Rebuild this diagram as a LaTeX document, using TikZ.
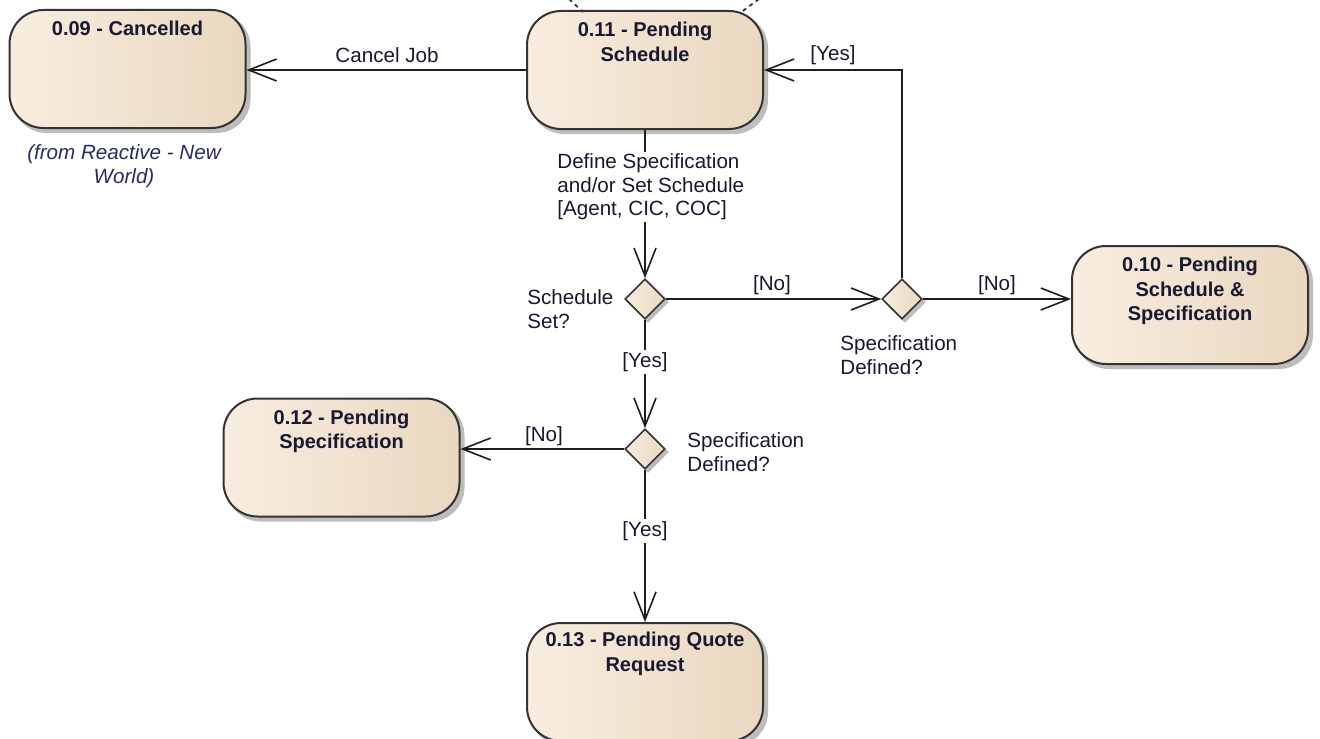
\documentclass[tikz,border=0pt]{standalone}
\usepackage{fontspec}
\setmainfont{Liberation Sans}
\usetikzlibrary{arrows.meta,shapes.geometric,backgrounds}
\definecolor{boxL}{HTML}{F8EDDF}
\definecolor{boxM}{HTML}{FBF1E5}
\definecolor{boxR}{HTML}{E9D8C0}
\definecolor{edgecol}{HTML}{333333}
\definecolor{linecol}{HTML}{1E1E1E}
\definecolor{txt}{HTML}{181830}
\definecolor{ital}{HTML}{2A2A66}
\definecolor{shadowcol}{HTML}{BDBDBD}
\tikzset{
  statebox/.style={draw=edgecol, line width=1pt, rounded corners=17pt,
    left color=boxL, middle color=boxM, right color=boxR,
    minimum width=118pt, minimum height=59pt, inner sep=0pt},
  boxtext/.style={anchor=north, inner sep=0pt, align=center,
    font=\fontsize{10}{12.2}\selectfont\bfseries, text=txt},
  decision/.style={diamond, aspect=1, draw=edgecol, line width=0.8pt,
    left color=boxL, right color=boxR, minimum size=20pt, inner sep=0pt},
  lbl/.style={inner sep=1pt, font=\fontsize{10.3}{11.7}\selectfont, text=txt, align=left},
  whitelbl/.style={lbl, fill=white},
  flow/.style={draw=linecol, line width=0.8pt,
    -{Straight Barb[length=14pt,width=11pt,line width=0.8pt]}},
  incoming/.style={draw=edgecol, line width=0.9pt, dash pattern=on 2pt off 2pt}
}
\begin{document}
\begin{tikzpicture}[x=0.5pt,y=-0.5pt]
\path[use as bounding box] (0,0) rectangle (1320,738);
\clip (0,0) rectangle (1320,738);

% state boxes
\node[statebox] (c09) at (127.5,69) {};
\node[statebox] (c11) at (645,70) {};
\node[statebox] (c10) at (1190,305) {};
\node[statebox] (c12) at (341.5,457.5) {};
\node[statebox] (c13) at (645,682) {};

\node[boxtext] (t09) at ([yshift=-6pt]c09.north) {0.09 - Cancelled};
\node[boxtext] (t11) at ([yshift=-6pt]c11.north) {0.11 - Pending\\Schedule};
\node[boxtext] (t10) at ([yshift=-6pt]c10.north) {0.10 - Pending\\Schedule \&\\Specification};
\node[boxtext] (t12) at ([yshift=-6pt]c12.north) {0.12 - Pending\\Specification};
\node[boxtext] (t13) at ([yshift=-5pt]c13.north) {0.13 - Pending Quote\\Request};

% decisions
\node[decision] (d1) at (645,299) {};
\node[decision] (d2) at (902,299) {};
\node[decision] (d3) at (645,449) {};

% shadows
\begin{scope}[on background layer]
  \foreach \n in {c09,c11,c10,c12,c13}{
    \fill[shadowcol, rounded corners=17pt]
      ([shift={(2pt,-2pt)}]\n.south west) rectangle ([shift={(2pt,-2pt)}]\n.north east);
  }
  \foreach \n in {d1,d2,d3}{
    \fill[shadowcol] ([shift={(1.5pt,-1.5pt)}]\n.north) -- ([shift={(1.5pt,-1.5pt)}]\n.east)
      -- ([shift={(1.5pt,-1.5pt)}]\n.south) -- ([shift={(1.5pt,-1.5pt)}]\n.west) -- cycle;
  }
\end{scope}

% incoming dashed transitions from outside the view
\coordinate (inA) at (569,-1);
\coordinate (inAend) at (583,12);
\coordinate (inB) at (759,-1);
\coordinate (inBend) at (740,13);
\draw[incoming] (inA) -- (inAend);
\draw[incoming] (inB) -- (inBend);

% connectors
\draw[flow] (c11.west) -- (c11.west -| c09.east);
\draw[flow] (c11.south) -- (d1.north);
\draw[flow] (d1.east) -- (d2.west);
\draw[flow] (d2.north) |- (c11.east);
\draw[flow] (d2.east) -- (d2.east -| c10.west);
\draw[flow] (d1.south) -- (d3.north);
\draw[flow] (d3.west) -- (d3.west -| c12.east);
\draw[flow] (d3.south) -- (c13.north);

% labels
\node[lbl] (lCancel) at (387,55) {Cancel Job};
\node[lbl, align=center, text=ital, font=\fontsize{10.3}{11.7}\selectfont\itshape] (lFrom) at (124,166) {(from Reactive - New\\World)};
\node[whitelbl, anchor=west] (lDefine) at (555,187) {Define Specification\\and/or Set Schedule\\{[Agent, CIC, COC]}};
\node[lbl] (lNo1) at (772,285) {[No]};
\node[lbl] (lYesTop) at (833,55) {[Yes]};
\node[lbl] (lNo2) at (997,285) {[No]};
\node[lbl, anchor=west] (lSched) at (525,309) {Schedule\\Set?};
\node[lbl, anchor=west] (lSpec1) at (838,355) {Specification\\Defined?};
\node[whitelbl] (lYes1) at (645,362) {[Yes]};
\node[lbl, anchor=west] (lSpec2) at (685,452) {Specification\\Defined?};
\node[lbl] (lNo3) at (544,436) {[No]};
\node[whitelbl] (lYes2) at (645,531) {[Yes]};
\end{tikzpicture}
\end{document}
